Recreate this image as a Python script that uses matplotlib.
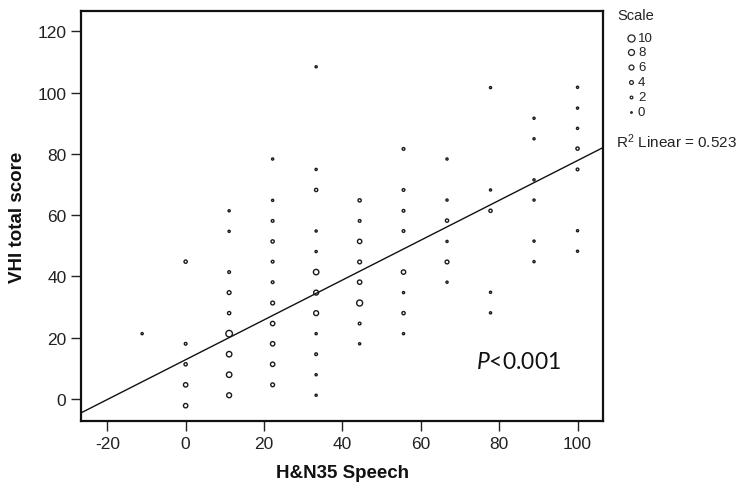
import matplotlib
matplotlib.use("Agg")
import matplotlib.pyplot as plt
import numpy as np

# ---- data ----
x_vals = [-11.1,
          0, 0, 0, 0, 0,
          11.1, 11.1, 11.1, 11.1, 11.1, 11.1, 11.1, 11.1, 11.1,
          22.2, 22.2, 22.2, 22.2, 22.2, 22.2, 22.2, 22.2, 22.2, 22.2, 22.2,
          33.3, 33.3, 33.3, 33.3, 33.3, 33.3, 33.3, 33.3, 33.3, 33.3, 33.3, 33.3,
          44.4, 44.4, 44.4, 44.4, 44.4, 44.4, 44.4, 44.4,
          55.6, 55.6, 55.6, 55.6, 55.6, 55.6, 55.6, 55.6,
          66.7, 66.7, 66.7, 66.7, 66.7, 66.7,
          77.8, 77.8, 77.8, 77.8, 77.8,
          88.9, 88.9, 88.9, 88.9, 88.9, 88.9,
          100, 100, 100, 100, 100, 100, 100]
y_vals = [21.3,
          44.8, 18.0, 11.3, 4.6, -2.2,
          61.4, 54.7, 41.4, 34.7, 28.0, 21.3, 14.6, 7.9, 1.2,
          78.3, 64.8, 58.1, 51.4, 44.8, 38.1, 31.3, 24.6, 18.0, 11.3, 4.6,
          108.4, 74.9, 68.2, 54.8, 48.1, 41.4, 34.7, 28.0, 21.3, 14.6, 7.9, 1.2,
          64.8, 58.1, 51.4, 44.7, 38.1, 31.3, 24.6, 18.0,
          81.6, 68.2, 61.4, 54.8, 41.4, 34.7, 28.0, 21.3,
          78.3, 64.9, 58.2, 51.4, 44.7, 38.1,
          101.6, 68.2, 61.4, 34.8, 28.1,
          91.6, 84.9, 71.5, 64.9, 51.5, 44.8,
          101.7, 94.9, 88.3, 81.7, 74.9, 54.9, 48.2]
counts = [1,
          3, 2, 3, 5, 5,
          1, 1, 2, 4, 3, 9, 7, 7, 6,
          1, 1, 2, 3, 2, 2, 4, 5, 5, 5, 4,
          1, 1, 3, 1, 1, 7, 6, 6, 1, 2, 1, 1,
          3, 2, 5, 4, 5, 8, 2, 1,
          2, 2, 2, 2, 5, 1, 3, 1,
          1, 1, 3, 1, 4, 1,
          1, 1, 3, 1, 1,
          1, 1, 1, 1, 1, 1,
          1, 1, 1, 3, 2, 1, 1]
legend_counts = [10, 8, 6, 4, 2, 0]
fit_intercept = 12.8
fit_slope = 0.65
r2_text = "R$^2$ Linear = 0.523"
p_text = "$\\mathit{P}$<0.001"
x_ticks = [-20, 0, 20, 40, 60, 80, 100]
y_ticks = [0, 20, 40, 60, 80, 100, 120]

FONT = "Liberation Sans"
plt.rcParams['font.family'] = [FONT, 'DejaVu Sans']
plt.rcParams['axes.unicode_minus'] = False
plt.rcParams['mathtext.fontset'] = 'custom'
plt.rcParams['mathtext.rm'] = 'Liberation Sans'
plt.rcParams['mathtext.it'] = 'Lato:italic'

W, H = 740, 489
fig = plt.figure(figsize=(W / 100, H / 100), dpi=100)
ax = fig.add_axes([81 / W, 1 - 422 / H, (603 - 81) / W, (422 - 12) / H])

def diam_pt(c):
    # marker diameter in points from count
    px = 1.6 + 0.55 * c
    return px * 0.72

sizes = [diam_pt(c) ** 2 for c in counts]
ax.scatter(x_vals, y_vals, s=sizes, facecolors='none', edgecolors='#1a1a1a',
           linewidths=1.0, zorder=3)

ax.axline((0, fit_intercept), slope=fit_slope, color='#111111', lw=1.0, zorder=2)

ax.set_xlim(-26.7, 106.5)
ax.set_ylim(-7.2, 126.6)
ax.set_xticks(x_ticks)
ax.set_yticks(y_ticks)
ax.tick_params(axis='both', direction='out', length=7.5, width=1.0,
               labelsize=12.5, color='#222222', labelcolor='#222222', pad=3)
for s in ax.spines.values():
    s.set_linewidth(1.6)
    s.set_color('#111111')

ax.set_xlabel("H&N35 Speech", fontsize=13.5, fontweight='bold', labelpad=10,
              color='#111111')
ax.set_ylabel("VHI total score", fontsize=13.5, fontweight='bold', labelpad=8,
              color='#111111')

# P value text
ax.text(0.757, 0.145, p_text, transform=ax.transAxes,
        fontsize=16.5, family=['Lato', 'DejaVu Sans'], color='#111111',
        ha='left', va='center')

# size legend
fig.text(617 / W, 1 - 16 / H, "Scale", fontsize=10.5, ha='left', va='center',
         color='#222222')
leg_y = [39, 53, 68, 83, 98, 113]
for c, yy in zip(legend_counts, leg_y):
    fig.add_artist(matplotlib.lines.Line2D(
        [631 / W], [1 - yy / H], marker='o', linestyle='none',
        markersize=diam_pt(c), markerfacecolor='none',
        markeredgecolor='#222222', markeredgewidth=0.9,
        transform=fig.transFigure))
    fig.text(638 / W, 1 - yy / H, str(c), fontsize=9.5, ha='left', va='center',
             color='#222222')

fig.text(616 / W, 1 - 142 / H, r2_text, fontsize=11, ha='left', va='center',
         color='#222222')

fig.savefig("out.png", dpi=100)
